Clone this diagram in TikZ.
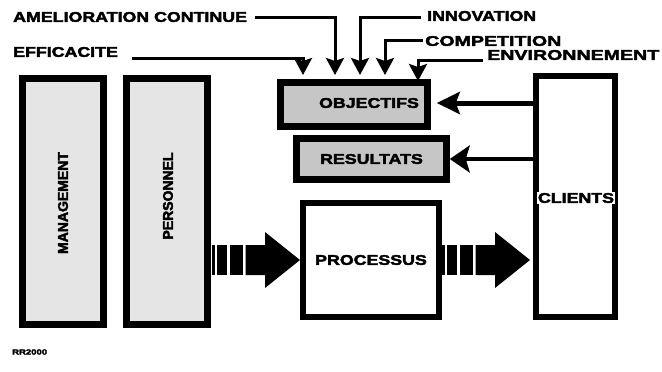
\documentclass[tikz,border=0pt]{standalone}
\usepackage{fontspec}
\newfontfamily\heavy[FakeStretch=1.27,FakeBold=3]{Liberation Sans Bold}
\newfontfamily\heavywide[FakeStretch=1.4,FakeBold=3]{Liberation Sans Bold}
\newfontfamily\heavyup[FakeStretch=1.0,FakeBold=3]{Liberation Sans Bold}
\usetikzlibrary{arrows.meta,calc}
\tikzset{
  x=1pt, y=-1pt,
  frame/.style={draw=black, line width=#1, outer sep=#1/2, inner sep=0pt},
  lbl/.style={font=\heavy\fontsize{14}{14}\selectfont, inner sep=0pt},
  widelbl/.style={font=\heavywide\fontsize{14}{14}\selectfont, inner sep=0pt},
  uplbl/.style={font=\heavyup\fontsize{14}{14}\selectfont, inner sep=0pt, rotate=90},
  toparrow/.style={line width=3pt, -{Stealth[length=17pt,width=18pt,inset=3pt]}},
  objarrow/.style={line width=5pt, -{Stealth[length=23pt,width=22pt,inset=4pt]}},
  resarrow/.style={line width=3.5pt, -{Stealth[length=20pt,width=27pt,inset=4pt]}},
  bigarrow/.pic={
    % striped shaft then a solid block arrow ending at the pic origin
    \fill (-88,-15) rectangle (-85,15);
    \fill (-83,-15) rectangle (-73,15);
    \fill (-70,-15) rectangle (-57,15);
    \fill (-54.5,-15) -- (-35,-15) -- (-35,-28) -- (0,0) -- (-35,28)
          -- (-35,15) -- (-54.5,15) -- cycle;
  }
}
\begin{document}
\begin{tikzpicture}
\useasboundingbox (0,0) rectangle (662,372);

% tall side boxes
\node[frame=7pt, fill=gray!20, minimum width=81pt, minimum height=246pt] (mgt) at (63,201.5) {};
\node[uplbl] (mgttxt) at (63,203) {MANAGEMENT};
\node[frame=7pt, fill=gray!20, minimum width=81pt, minimum height=246pt] (pers) at (167,201.5) {};
\node[uplbl] (perstxt) at (168,196) {PERSONNEL};

% goals and results
\node[frame=6.5pt, fill=gray!45, minimum width=147pt, minimum height=44pt] (obj) at (354,104.5) {};
\node[lbl] (objtxt) at (369,103) {OBJECTIFS};
\node[frame=6.5pt, fill=gray!45, minimum width=150pt, minimum height=41pt, lbl] (res) at (371.5,159) {RESULTATS};

% process and customers
\node[frame=6pt, fill=white, minimum width=136pt, minimum height=114pt, lbl] (proc) at (371,260) {PROCESSUS};
\node[frame=6pt, fill=white, minimum width=79pt, minimum height=241pt] (cli) at (575.5,196.5) {};
\node[lbl, fill=white, inner sep=1pt] (clitxt) at (576,198) {CLIENTS};

% flow arrows
\pic at (proc.west) {bigarrow};
\pic at ([xshift=-3pt]cli.west |- proc.west) {bigarrow};

% customer feedback
\draw[objarrow] (cli.west |- objtxt) -- ([xshift=6pt]obj.east |- objtxt);
\draw[resarrow] (cli.west |- res.east) -- (res.east);

% driving factors
\node[lbl, anchor=west] (ame) at (13,17) {AMELIORATION CONTINUE};
\node[lbl, anchor=west] (eff) at (13,52) {EFFICACITE};
\node[lbl, anchor=west] (inn) at (427,16) {INNOVATION};
\node[widelbl, anchor=west] (comp) at (425,41) {COMPETITION};
\node[widelbl, anchor=west] (env) at (487,55) {ENVIRONNEMENT};

\coordinate (e1) at (132,58);  \coordinate (t1) at (303,75);
\coordinate (a1) at (255,17);  \coordinate (t2) at (335,75);
\coordinate (i1) at (421,17);  \coordinate (t3) at (360,75);
\coordinate (c1) at (423,40);  \coordinate (t4) at (385,75);
\coordinate (v1) at (483,60);  \coordinate (t5) at (418,81);

\draw[toparrow] (e1) -| (t1);
\draw[toparrow] (a1) -| (t2);
\draw[toparrow] (i1) -| (t3);
\draw[toparrow] (c1) -| (t4);
\draw[toparrow] (v1) -| (t5);

\node[font=\heavy\fontsize{7.5}{7.5}\selectfont, inner sep=0pt, anchor=west] (ref) at (12,352) {RR2000};
\end{tikzpicture}
\end{document}
